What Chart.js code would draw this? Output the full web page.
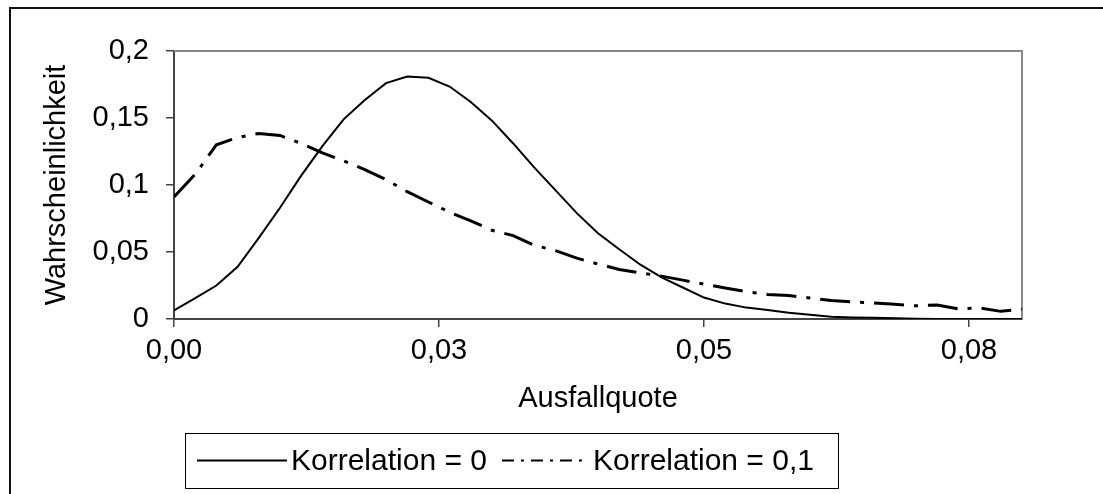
<!DOCTYPE html>
<html lang="de">
<head>
<meta charset="utf-8">
<script src="https://cdn.jsdelivr.net/npm/chart.js@4.4.1/dist/chart.umd.min.js"></script>
<style>
  html, body { margin: 0; padding: 0; background: #fff; }
  #wrap { position: relative; width: 1103px; height: 494px; overflow: hidden; background: #fff; }
  #frame { position: absolute; left: 9px; top: 7px; width: 1200px; height: 600px; border: 2px solid #111; pointer-events: none; }
  canvas { position: absolute; left: 0; top: 0; }
</style>
</head>
<body>
<div id="wrap">
  <canvas id="chart" width="1103" height="494"></canvas>
  <div id="frame"></div>
</div>
<script>
// Werte
const ausfallquote = [0, 0.002, 0.004, 0.006, 0.008, 0.010, 0.012, 0.014, 0.016, 0.018,
    0.020, 0.022, 0.024, 0.026, 0.028, 0.030, 0.032, 0.034, 0.036, 0.038,
    0.040, 0.042, 0.044, 0.046, 0.048, 0.050, 0.052, 0.054, 0.056, 0.058,
    0.060, 0.062, 0.064, 0.066, 0.068, 0.070, 0.072, 0.074, 0.076, 0.078, 0.080];

const korrelation0 = [0.0065, 0.0155, 0.025, 0.039, 0.0605, 0.083, 0.107, 0.129, 0.149, 0.1635,
    0.176, 0.181, 0.180, 0.1735, 0.162, 0.148, 0.131, 0.113, 0.096, 0.079,
    0.064, 0.052, 0.0405, 0.031, 0.0235, 0.016, 0.0115, 0.0085, 0.0068, 0.0047,
    0.0031, 0.0017, 0.0012, 0.001, 0.0005, 0.0002, 0, 0, 0, 0, 0];

const korrelation01 = [0.091, 0.108, 0.130, 0.1355, 0.1385, 0.137, 0.131, 0.124, 0.118, 0.1115,
    0.104, 0.095, 0.0873, 0.0797, 0.0732, 0.0662, 0.0622, 0.055, 0.051, 0.0454,
    0.041, 0.037, 0.0344, 0.032, 0.029, 0.026, 0.0232, 0.0205, 0.0183, 0.0175,
    0.0157, 0.0138, 0.0128, 0.012, 0.011, 0.0098, 0.0105, 0.0075, 0.0082, 0.0057, 0.0073];

const xTickValues = [0, 0.025, 0.05, 0.075];
const xTickLabels = ['0,00', '0,03', '0,05', '0,08'];
const yTickLabels = ['0', '0,05', '0,1', '0,15', '0,2'];

const family = "'Liberation Sans', Arial, sans-serif";
const font = { family, size: 29 };
const legendFont = { family, size: 30 };

/**
 * Grauer Rahmen oben/rechts um die Zeichenfläche
 */
const plotFrame = {
    id: 'plotFrame',
    beforeDatasetsDraw(chart) {
        const { ctx, chartArea: a } = chart;
        ctx.save();
        ctx.strokeStyle = '#888';
        ctx.lineWidth = 2;
        ctx.beginPath();
        ctx.moveTo(a.left, a.top);
        ctx.lineTo(a.right, a.top);
        ctx.lineTo(a.right, a.bottom);
        ctx.stroke();
        ctx.restore();
    }
};

/**
 * Legende mit Kasten, wie im Excel-Diagramm
 */
const boxLegend = {
    id: 'boxLegend',
    afterDraw(chart, args, opts) {
        const { ctx } = chart;
        ctx.save();
        ctx.font = `${legendFont.size}px ${legendFont.family}`;
        ctx.textBaseline = 'middle';
        ctx.fillStyle = '#000';
        ctx.strokeStyle = '#000';
        ctx.lineWidth = 1;
        ctx.strokeRect(opts.left + 0.5, opts.top + 0.5, opts.width, opts.height);

        const midY = opts.top + opts.height / 2;
        let x = opts.left + opts.padding;
        chart.data.datasets.forEach((ds, i) => {
            const w = opts.sampleWidths[i];
            ctx.save();
            ctx.lineWidth = 2;
            ctx.setLineDash(opts.sampleDash[i]);
            ctx.beginPath();
            ctx.moveTo(x, midY);
            ctx.lineTo(x + w, midY);
            ctx.stroke();
            ctx.restore();
            x += w + opts.gap;
            ctx.fillText(ds.label, x, midY + 1);
            x += ctx.measureText(ds.label).width + opts.itemGap;
        });
        ctx.restore();
    }
};

const axisGrid = { drawOnChartArea: false, drawTicks: true, tickLength: 8, color: '#444', lineWidth: 1.5 };
const axisBorder = { display: true, color: '#444', width: 2 };

new Chart(document.getElementById('chart'), {
    type: 'line',
    data: {
        datasets: [{
            label: 'Korrelation = 0',
            data: ausfallquote.map((x, i) => ({ x, y: korrelation0[i] })),
            borderColor: '#000',
            borderWidth: 2,
            pointRadius: 0,
            tension: 0
        }, {
            label: 'Korrelation = 0,1',
            data: ausfallquote.map((x, i) => ({ x, y: korrelation01[i] })),
            borderColor: '#000',
            borderWidth: 3,
            borderDash: [30, 10, 4, 10],
            pointRadius: 0,
            tension: 0
        }]
    },
    options: {
        responsive: false,
        animation: false,
        layout: { padding: { top: 51, right: 81, bottom: 74.6, left: 30 } },
        plugins: {
            legend: { display: false },
            tooltip: { enabled: false },
            boxLegend: {
                left: 185, top: 433, width: 653, height: 55,
                padding: 12, sampleWidths: [90, 87], sampleDash: [[], [12, 7, 3, 7]],
                gap: 4, itemGap: 15
            }
        },
        scales: {
            x: {
                type: 'linear',
                min: 0,
                max: 0.08,
                afterBuildTicks: s => { s.ticks = xTickValues.map(value => ({ value })); },
                afterFit: s => { s.height = 100.4; },
                ticks: {
                    color: '#000', font, padding: 7, maxRotation: 0, autoSkip: false,
                    callback: (v, i) => xTickLabels[i]
                },
                grid: axisGrid,
                border: axisBorder,
                title: { display: true, text: 'Ausfallquote', color: '#000', font, padding: { top: 0, bottom: 3 } }
            },
            y: {
                min: 0,
                max: 0.2,
                afterFit: s => { s.width = 144; },
                ticks: {
                    stepSize: 0.05, color: '#000', font, padding: 17,
                    callback: (v, i) => yTickLabels[i]
                },
                grid: axisGrid,
                border: axisBorder,
                title: { display: true, text: 'Wahrscheinlichkeit', color: '#000', font, padding: { top: 10, bottom: 0 } }
            }
        }
    },
    plugins: [plotFrame, boxLegend]
});
</script>
</body>
</html>
